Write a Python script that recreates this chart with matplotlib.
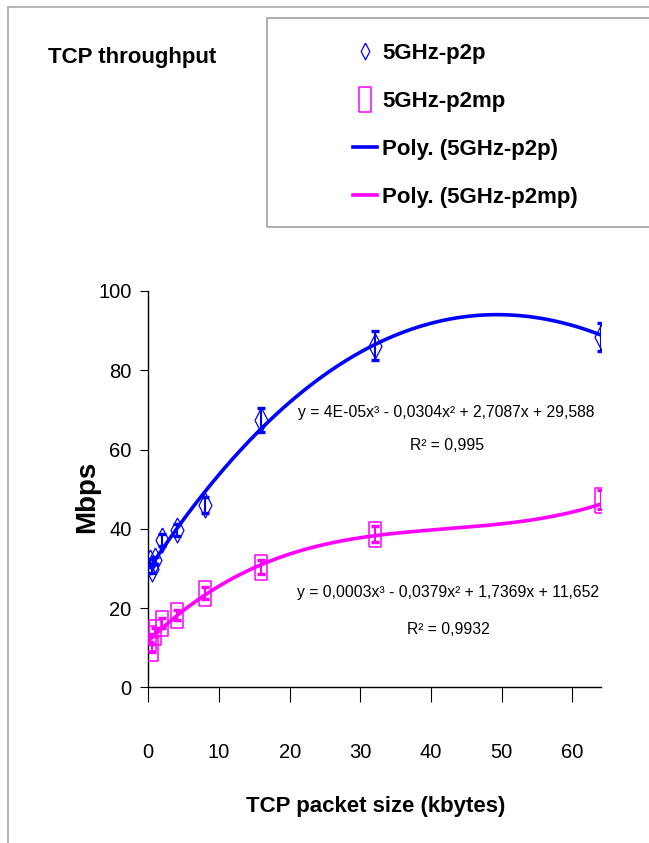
import numpy as np
import matplotlib
matplotlib.use("Agg")
import matplotlib.pyplot as plt
from matplotlib.lines import Line2D
from matplotlib.patches import Rectangle

plt.rcParams['font.family'] = ['Liberation Sans Narrow', 'Liberation Sans', 'DejaVu Sans']

# data
packet_kb = [0.25, 0.5, 1, 2, 4, 8, 16, 32, 64]
p2p_mbps = [31.5, 29.8, 32.0, 37.2, 39.7, 46.0, 67.5, 86.2, 88.3]
p2p_err = [1.0, 1.0, 1.0, 1.5, 1.5, 2.0, 3.0, 3.6, 3.5]
p2mp_mbps = [12.5, 10.0, 14.0, 16.2, 18.2, 23.9, 30.3, 38.6, 47.3]
p2mp_err = [1.0, 1.0, 1.0, 1.2, 1.2, 1.5, 1.8, 2.0, 2.4]

# trendline coefficients as printed on the chart
p2p_coef = [4e-05, -0.0304, 2.7087, 29.588]
p2mp_coef = [0.0003, -0.0379, 1.7369, 11.652]
p2p_eq = "y = 4E-05x³ - 0,0304x² + 2,7087x + 29,588"
p2p_r2 = "R² = 0,995"
p2mp_eq = "y = 0,0003x³ - 0,0379x² + 1,7369x + 11,652"
p2mp_r2 = "R² = 0,9932"

x_ticks = [0, 10, 20, 30, 40, 50, 60]
y_ticks = [0, 20, 40, 60, 80, 100]

BLUE = '#0000FF'
PINK = '#FF00FF'
W, H = 649, 843


def fx(px):
    return px / W


def fy(py):
    return 1 - py / H


# tall markers (the original picture is stretched vertically)
diamond = [(0, 1), (0.52, 0), (0, -1), (-0.52, 0), (0, 1)]
box = [(-0.5, -1), (0.5, -1), (0.5, 1), (-0.5, 1), (-0.5, -1)]

fig = plt.figure(figsize=(W / 100, H / 100), dpi=100)
ax = fig.add_axes([fx(148.3), fy(687.3), fx(600.7) - fx(148.3), fy(291) - fy(687.3)])

# chart area border and legend frame
fig.patches.append(Rectangle((fx(8), -0.1), 1.2, fy(6.5) + 0.1, transform=fig.transFigure,
                             fill=False, edgecolor='#A8A8A8', lw=1.2))
fig.patches.append(Rectangle((fx(266.5), fy(227)), 1.0, fy(18) - fy(227), transform=fig.transFigure,
                             fill=False, edgecolor='#A0A0A0', lw=1.2))

# trendlines
xs = np.linspace(min(packet_kb), max(packet_kb), 300)
ax.plot(xs, np.polyval(p2p_coef, xs), color=BLUE, lw=2.6, zorder=3)
ax.plot(xs, np.polyval(p2mp_coef, xs), color=PINK, lw=2.6, zorder=3)

# points with error bars
ax.errorbar(packet_kb, p2p_mbps, yerr=p2p_err, fmt='none', ecolor=BLUE,
            elinewidth=1.5, capsize=3, capthick=2.4, zorder=4)
ax.plot(packet_kb, p2p_mbps, ls='none', marker=diamond, ms=18, mfc='none',
        mec=BLUE, mew=0.9, zorder=5)
ax.errorbar(packet_kb, p2mp_mbps, yerr=p2mp_err, fmt='none', ecolor=PINK,
            elinewidth=1.5, capsize=3, capthick=2.4, zorder=4)
ax.plot(packet_kb, p2mp_mbps, ls='none', marker=box, ms=18, mfc='none',
        mec=PINK, mew=1.1, zorder=5)

ax.set_xlim(0, 64)
ax.set_ylim(0, 100)
ax.set_xticks(x_ticks)
ax.set_yticks(y_ticks)
ax.spines['top'].set_visible(False)
ax.spines['right'].set_visible(False)
for s in ('left', 'bottom'):
    ax.spines[s].set_linewidth(1.0)
ax.tick_params(axis='x', direction='out', length=11, width=0.8, pad=29, labelsize=14.5)
ax.tick_params(axis='y', direction='out', length=6, width=0.8, pad=6, labelsize=14.5)
ax.patch.set_visible(False)

ax.set_xlabel('TCP packet size (kbytes)', fontsize=16, fontweight='bold')
ax.xaxis.set_label_coords((376 - 148.3) / 452.4, (687.3 - 807) / 396.3)
ax.xaxis.label.set_va('center')
ax.set_ylabel('Mbps', fontsize=20, fontweight='bold')
ax.yaxis.set_label_coords((87 - 148.3) / 452.4, (687.3 - 497) / 396.3)
ax.yaxis.label.set_va('center')

# trendline equations
fig.text(fx(446.5), fy(412), p2p_eq, ha='center', va='center', fontsize=11.3)
fig.text(fx(446.5), fy(446), p2p_r2, ha='center', va='center', fontsize=11.3)
fig.text(fx(448), fy(593), p2mp_eq, ha='center', va='center', fontsize=11.3)
fig.text(fx(448), fy(630), p2mp_r2, ha='center', va='center', fontsize=11.3)

# title
fig.text(fx(48), fy(58), 'TCP throughput', ha='left', va='center', fontsize=16, fontweight='bold')

# legend
handles = [
    Line2D([], [], ls='none', marker=diamond, ms=12, mfc='none', mec=BLUE, mew=0.9),
    Line2D([], [], ls='none', marker=box, ms=18, mfc='none', mec=PINK, mew=1.1),
    Line2D([], [], color=BLUE, lw=2.6),
    Line2D([], [], color=PINK, lw=2.6),
]
labels = ['5GHz-p2p', '5GHz-p2mp', 'Poly. (5GHz-p2p)', 'Poly. (5GHz-p2mp)']
fig.legend(handles, labels, loc='upper left', bbox_to_anchor=(fx(353), fy(42.5)),
           frameon=False, prop={'weight': 'bold', 'size': 16},
           handlelength=1.08, handletextpad=0.225, labelspacing=1.225, borderpad=0,
           borderaxespad=0)

fig.savefig('out.png', dpi=100)
